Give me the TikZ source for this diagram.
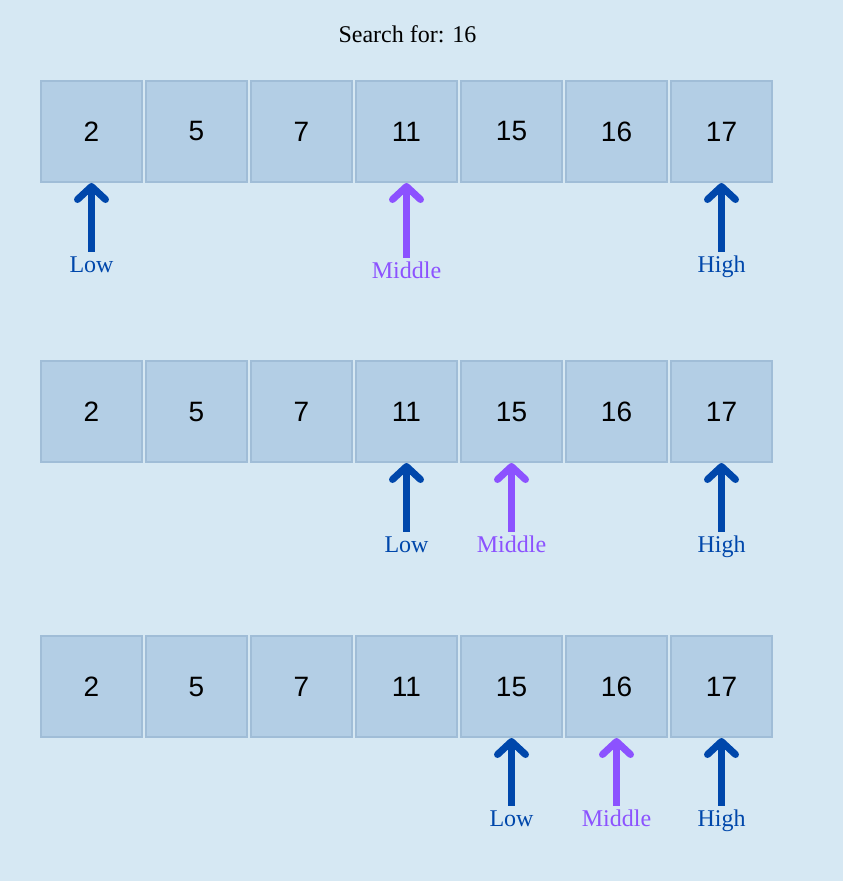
\documentclass[tikz,border=0pt]{standalone}
\usepackage{fontspec}
\setmainfont{Liberation Serif}
\newfontfamily\cellfont{Liberation Sans}
\usetikzlibrary{arrows.meta}
\definecolor{bgblue}{HTML}{D6E8F3}
\definecolor{cellblue}{HTML}{B3CEE5}
\definecolor{celledge}{HTML}{A0BDD7}
\definecolor{lowhigh}{HTML}{0047AB}
\definecolor{middle}{HTML}{8C52FF}
\tikzset{
  cell/.style={draw=celledge, fill=cellblue, line width=2pt, minimum size=101pt,
    inner sep=0pt, outer sep=1pt, font=\cellfont\fontsize{28}{30}\selectfont},
  ptr/.style={line width=7pt, -{Straight Barb[length=13pt,width=28pt,round]}},
  ptrlabel/.style={anchor=base, inner xsep=0pt, inner ysep=4pt, text height=16pt,
    font=\fontsize{24}{26}\selectfont}
}
\begin{document}
\begin{tikzpicture}[x=1pt, y=-1pt]
            \useasboundingbox (0, 0) rectangle (843, 881);
            \fill[bgblue] (0, 0) rectangle (843, 881);

            \node[anchor=base, font=\fontsize{24}{26}\selectfont] (title) at (407.5, 42) {Search for: 16};

            \foreach \v [count=\i] in {2, 5, 7, 11, 15, 16, 17} {
                \node[cell] (a\i) at ({91.5 + 105*(\i-1)}, 131.5) {\v};
                \node[cell] (b\i) at ({91.5 + 105*(\i-1)}, 411.5) {\v};
                \node[cell] (c\i) at ({91.5 + 105*(\i-1)}, 686.5) {\v};
            }

            \node[ptrlabel, text=lowhigh] (alow) at (91.5, 272) {Low};
            \node[ptrlabel, text=middle] (amid) at (406.5, 278) {Middle};
            \node[ptrlabel, text=lowhigh] (ahigh) at (721.5, 272) {High};
            \draw[ptr, lowhigh] (alow.north) -- (a1.south);
            \draw[ptr, middle] (amid.north) -- (a4.south);
            \draw[ptr, lowhigh] (ahigh.north) -- (a7.south);

            \node[ptrlabel, text=lowhigh] (blow) at (406.5, 552) {Low};
            \node[ptrlabel, text=middle] (bmid) at (511.5, 552) {Middle};
            \node[ptrlabel, text=lowhigh] (bhigh) at (721.5, 552) {High};
            \draw[ptr, lowhigh] (blow.north) -- (b4.south);
            \draw[ptr, middle] (bmid.north) -- (b5.south);
            \draw[ptr, lowhigh] (bhigh.north) -- (b7.south);

            \node[ptrlabel, text=lowhigh] (clow) at (511.5, 826) {Low};
            \node[ptrlabel, text=middle] (cmid) at (616.5, 826) {Middle};
            \node[ptrlabel, text=lowhigh] (chigh) at (721.5, 826) {High};
            \draw[ptr, lowhigh] (clow.north) -- (c5.south);
            \draw[ptr, middle] (cmid.north) -- (c6.south);
            \draw[ptr, lowhigh] (chigh.north) -- (c7.south);
        \end{tikzpicture}
\end{document}
